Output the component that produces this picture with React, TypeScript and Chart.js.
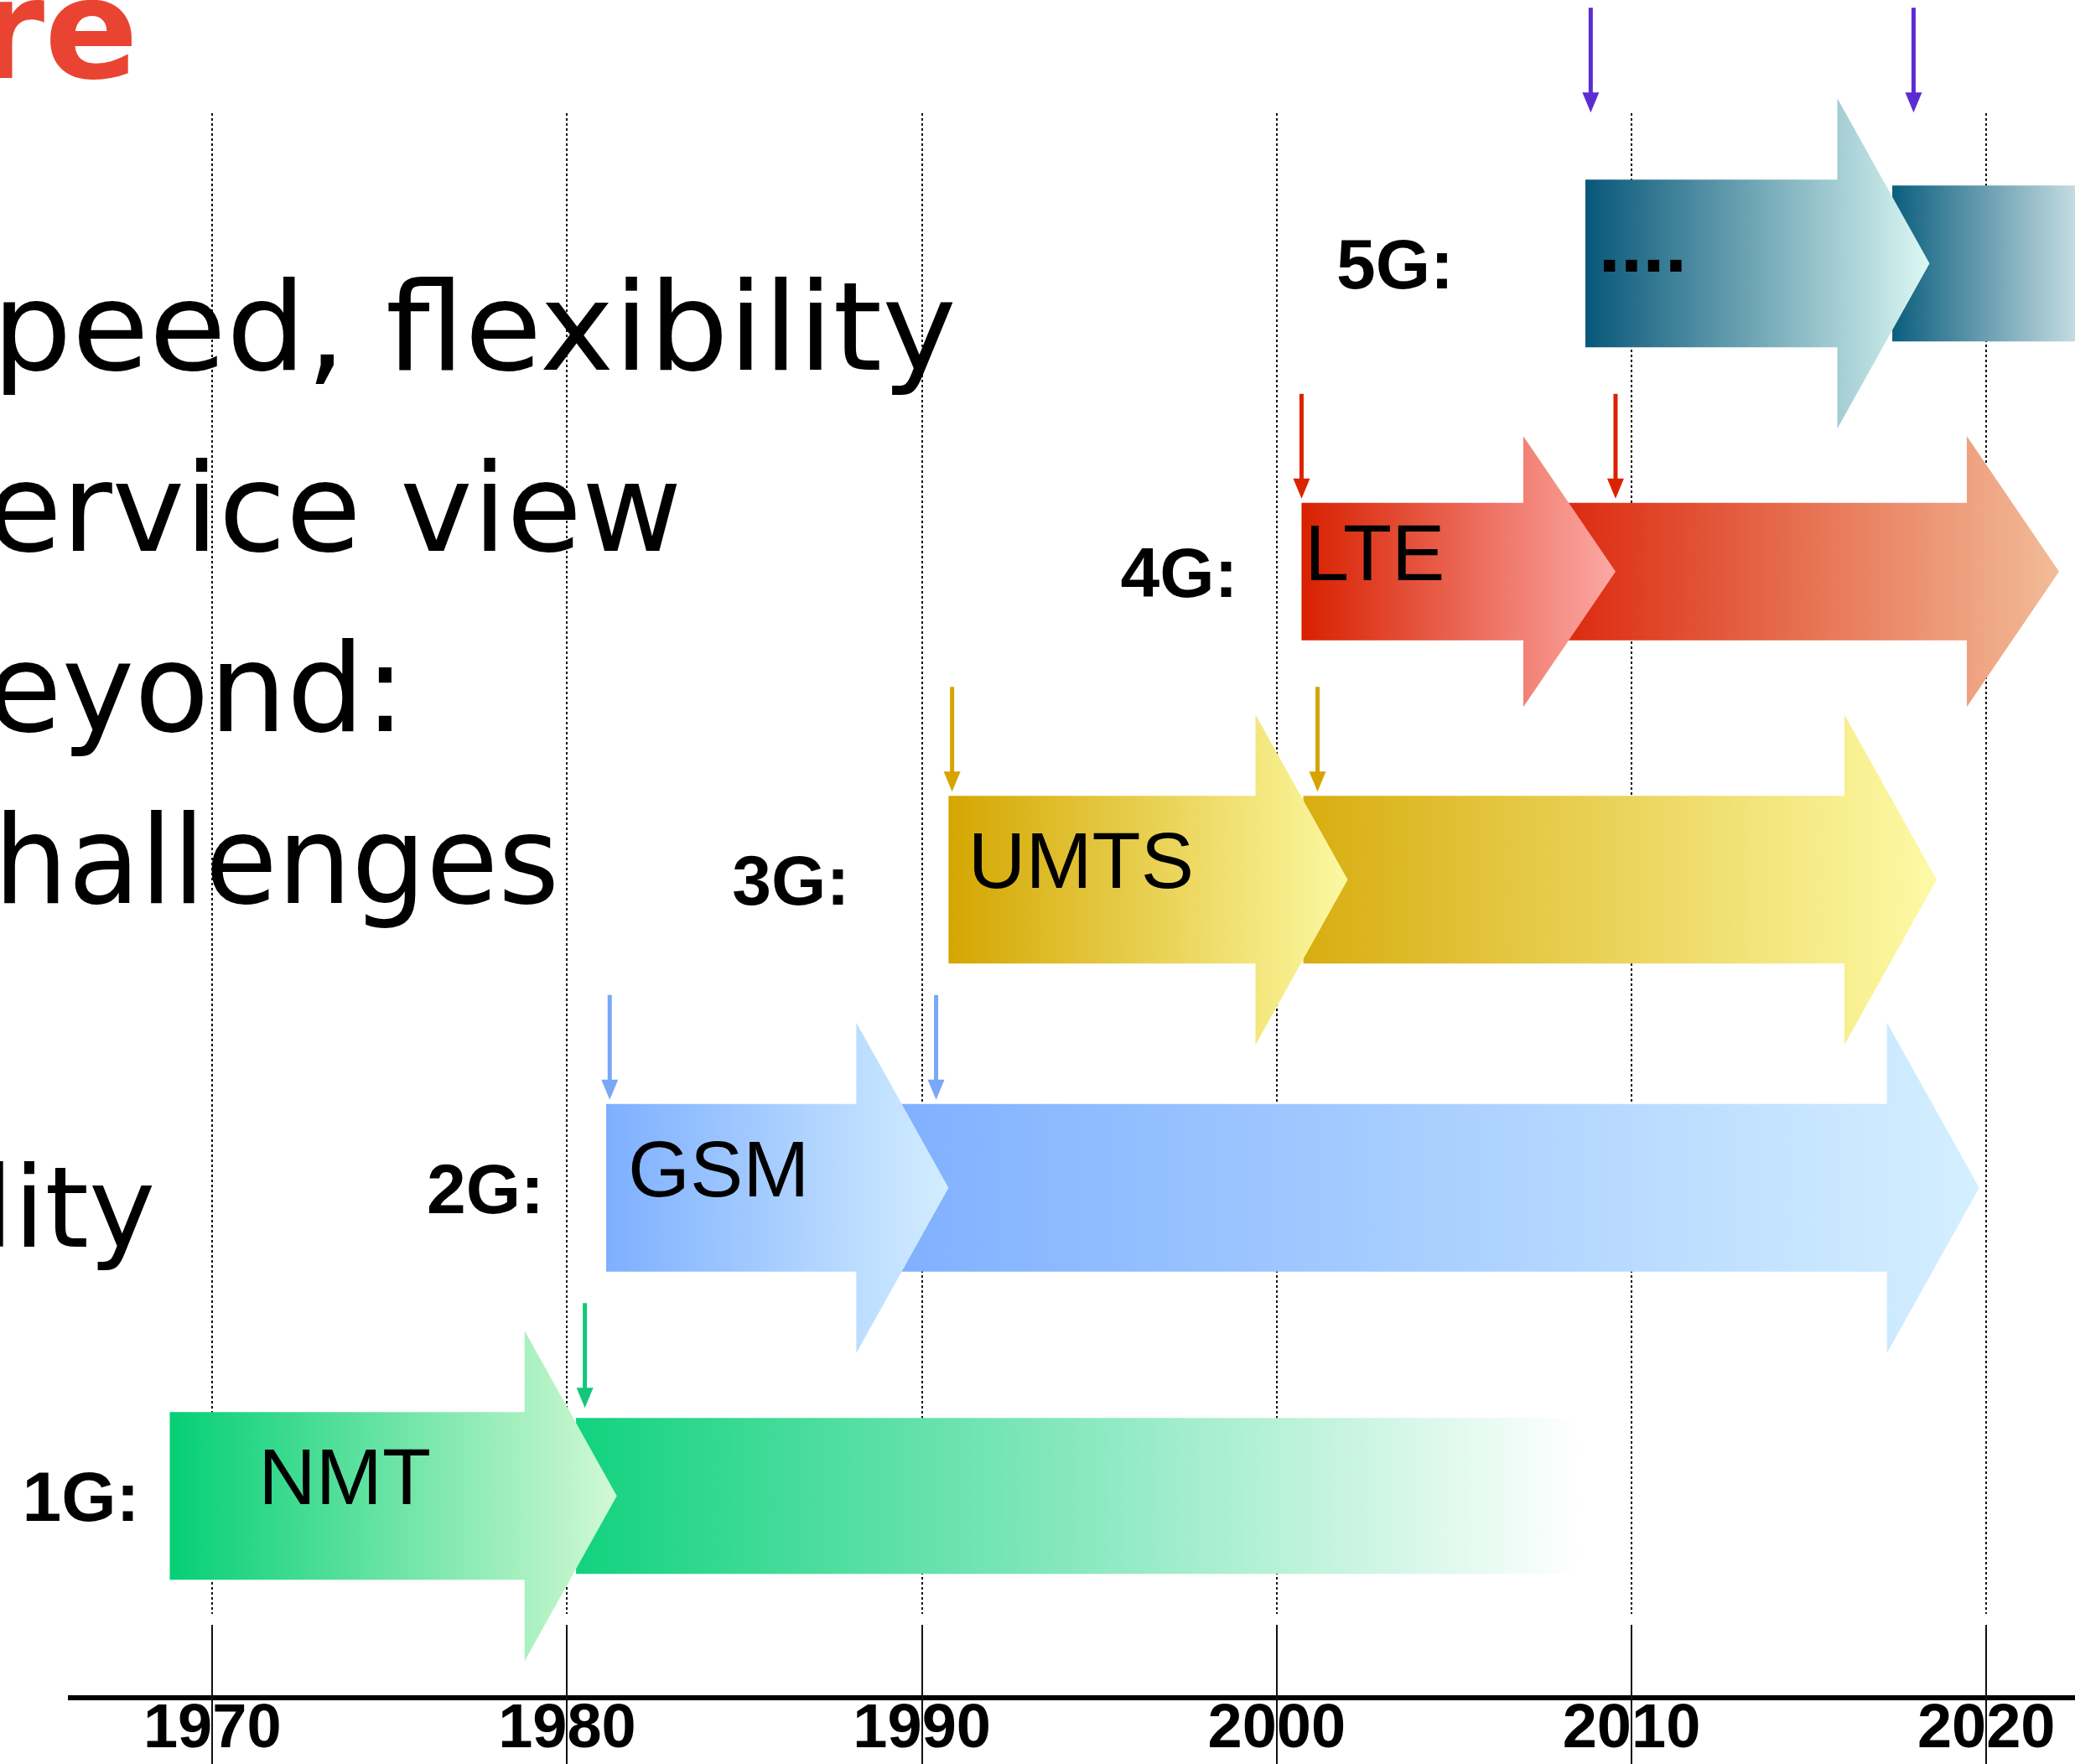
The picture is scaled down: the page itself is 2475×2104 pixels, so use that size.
import React, { useEffect, useRef } from 'react';
import { Chart, registerables } from 'chart.js';

Chart.register(...registerables);

// ---------------- data ----------------
const TICK_YEARS = [1970, 1980, 1990, 2000, 2010, 2020];
const GENERATIONS = ['1G', '2G', '3G', '4G', '5G'];
const TECHNOLOGIES = ['NMT', 'GSM', 'UMTS', 'LTE', '....'];
// introduction phase (first arrow): start year and tip year
const PHASE1_START = [1968.8, 1981.1, 1990.75, 2000.7, 2008.7];
const PHASE1_END = [1981.4, 1990.75, 2002.0, 2009.55, 2018.4];
// evolution phase (second arrow)
const PHASE2_START = [1980.25, 1989.35, 2000.75, 2008.15, 2017.35];
const PHASE2_END = [2008.6, 2019.8, 2018.6, 2022.05, 2022.5];
const PHASE2_HEAD = [false, true, true, true, false];
// milestones (small downward arrows)
const MILESTONES = [
  [1980.5],
  [1981.2, 1990.4],
  [1990.85, 2001.15],
  [2000.7, 2009.55],
  [2008.85, 2017.95],
];

// ---------------- styles ----------------
const STYLE = [
  { p1: ['#05CF76', '#D2F9D4'], p2: ['#12D27F', '#FFFFFF'], marker: '#12C878', size: 1, labelGap: 44, textShift: 22, markerLift: 0 },
  { p1: ['#7EAFFF', '#D2EDFF'], p2: ['#80B0FF', '#D4EFFF'], marker: '#78A8F6', size: 1, labelGap: 82, textShift: 10, markerLift: 0 },
  { p1: ['#D4A600', '#FCF9A2'], p2: ['#D8AD10', '#FDFAA6'], marker: '#D6A400', size: 1, labelGap: 126, textShift: 0, markerLift: 0 },
  { p1: ['#D82000', '#FCA9A5'], p2: ['#DC2A10', '#F2BC98'], marker: '#DC2200', size: 0.82, labelGap: 84, textShift: -20, markerLift: 0 },
  { p1: ['#085779', '#DCF8F4'], p2: ['#0B5E7E', '#C4DCE1'], marker: '#5B2DD1', size: 1, labelGap: 165, textShift: -57, markerLift: 75 },
];

const BODY_HALF = 100;
const HEAD_HALF = 197;
const HEAD_LEN = 110;

function drawArrow(ctx: CanvasRenderingContext2D, x0: number, x1: number, cy: number, bh: number, hh: number, hl: number, head: boolean, c0: string, c1: string) {
  const g = ctx.createLinearGradient(x0, 0, x1, 0);
  g.addColorStop(0, c0);
  g.addColorStop(1, c1);
  ctx.fillStyle = g;
  ctx.beginPath();
  if (head) {
    const hb = x1 - hl;
    ctx.moveTo(x0, cy - bh);
    ctx.lineTo(hb, cy - bh);
    ctx.lineTo(hb, cy - hh);
    ctx.lineTo(x1, cy);
    ctx.lineTo(hb, cy + hh);
    ctx.lineTo(hb, cy + bh);
    ctx.lineTo(x0, cy + bh);
  } else {
    ctx.rect(x0, cy - bh, x1 - x0, 2 * bh);
  }
  ctx.closePath();
  ctx.fill();
}

const slidePlugin = {
  id: 'slide',
  beforeDatasetsDraw(chart: any) {
    const ctx: CanvasRenderingContext2D = chart.ctx;
    const xs = chart.scales.x;
    const ys = chart.scales.y;
    ctx.save();

    // vertical dotted guide lines + solid tick lines
    ctx.strokeStyle = '#111';
    ctx.lineWidth = 2;
    TICK_YEARS.forEach((t) => {
      const x = Math.round(xs.getPixelForValue(t));
      ctx.setLineDash([3, 3]);
      ctx.beginPath();
      ctx.moveTo(x, 135);
      ctx.lineTo(x, 1925);
      ctx.stroke();
      ctx.setLineDash([]);
      ctx.beginPath();
      ctx.moveTo(x, 1938);
      ctx.lineTo(x, chart.height);
      ctx.stroke();
    });

    // slide text (cut off on the left)
    ctx.fillStyle = '#E94432';
    ctx.textAlign = 'right';
    ctx.textBaseline = 'alphabetic';
    ctx.font = 'bold 165px "DejaVu Sans", sans-serif';
    ctx.fillText('re', 165, 93);

    ctx.fillStyle = '#000';
    ctx.textAlign = 'left';
    ctx.font = '146px "DejaVu Sans", sans-serif';
    ctx.save();
    ctx.scale(1.025, 1);
    ctx.fillText('peed, flexibility', -9, 441);
    ctx.restore();
    ctx.fillText('ervice view', -16, 657);
    ctx.fillText('eyond:', -16, 872);
    ctx.save();
    ctx.scale(0.958, 1);
    ctx.fillText('challenges', -88, 1077);
    ctx.restore();
    ctx.font = '134px "DejaVu Sans", sans-serif';
    ctx.fillText('lity', -21, 1487);

    // arrows
    GENERATIONS.forEach((gen, i) => {
      const st = STYLE[i];
      const cy = ys.getPixelForValue(i + 1);
      const bh = BODY_HALF * st.size;
      const hh = HEAD_HALF * st.size;
      const a0 = xs.getPixelForValue(PHASE2_START[i]);
      const a1 = xs.getPixelForValue(PHASE2_END[i]);
      drawArrow(ctx, a0, a1, cy, bh * (PHASE2_HEAD[i] ? 1 : 0.93), hh, HEAD_LEN, PHASE2_HEAD[i], st.p2[0], st.p2[1]);
      const b0 = xs.getPixelForValue(PHASE1_START[i]);
      const b1 = xs.getPixelForValue(PHASE1_END[i]);
      drawArrow(ctx, b0, b1, cy, bh, hh, HEAD_LEN, true, st.p1[0], st.p1[1]);

      // technology name
      ctx.fillStyle = '#000';
      ctx.textAlign = 'center';
      ctx.textBaseline = 'alphabetic';
      ctx.font = (i === 4 ? 'bold ' : '') + '95px "Liberation Sans", Arial, sans-serif';
      ctx.fillText(TECHNOLOGIES[i], (b0 + b1 - HEAD_LEN) / 2 - 25 + st.textShift, cy + 10);

      // generation label
      ctx.textAlign = 'right';
      ctx.font = 'bold 84px "Liberation Sans", Arial, sans-serif';
      ctx.fillText(gen + ':', b0 - st.labelGap + 8, cy + 30);
    });

    // milestone markers
    GENERATIONS.forEach((gen, i) => {
      const st = STYLE[i];
      const cy = ys.getPixelForValue(i + 1);
      const tip = cy - BODY_HALF * st.size - 5 - st.markerLift;
      const top = tip - 125;
      MILESTONES[i].forEach((m) => {
        const x = xs.getPixelForValue(m);
        ctx.strokeStyle = st.marker;
        ctx.fillStyle = st.marker;
        ctx.lineWidth = 5;
        ctx.beginPath();
        ctx.moveTo(x, top);
        ctx.lineTo(x, tip - 22);
        ctx.stroke();
        ctx.beginPath();
        ctx.moveTo(x - 10, tip - 24);
        ctx.lineTo(x + 10, tip - 24);
        ctx.lineTo(x, tip);
        ctx.closePath();
        ctx.fill();
      });
    });

    ctx.restore();
  },
};

export default function App() {
  const ref = useRef<HTMLCanvasElement>(null);
  useEffect(() => {
    const canvas = ref.current as HTMLCanvasElement;
    const chart = new Chart(canvas, {
      type: 'scatter',
      data: { datasets: [] },
      options: {
        animation: false,
        responsive: false,
        devicePixelRatio: 1,
        events: [],
        layout: { padding: { left: 84, right: 0, top: 0, bottom: 0 } },
        plugins: { legend: { display: false }, tooltip: { enabled: false } },
        scales: {
          x: {
            type: 'linear',
            position: 'bottom',
            min: 1966,
            max: 2022.5,
            afterBuildTicks: (s: any) => {
              s.ticks = TICK_YEARS.map((v) => ({ value: v }));
            },
            afterFit: (s: any) => {
              s.height = 79;
            },
            grid: { display: true, drawOnChartArea: false, drawTicks: false },
            border: { display: true, color: '#000', width: 6 },
            ticks: {
              color: '#000',
              padding: 2,
              autoSkip: false,
              maxRotation: 0,
              font: { family: '"Liberation Sans", Arial, sans-serif', weight: 'bold', size: 74, lineHeight: 1 },
              callback: (v: any) => String(v),
            },
          },
          y: { type: 'linear', display: false, min: 0.345, max: 5.855 },
        },
      } as any,
      plugins: [slidePlugin],
    });
    return () => chart.destroy();
  }, []);
  return (
    <div style={{ position: 'absolute', left: 0, top: 0, width: 2475, height: 2104, background: '#fff' }}>
      <canvas ref={ref} width={2475} height={2104} style={{ display: 'block', width: 2475, height: 2104 }} />
    </div>
  );
}
